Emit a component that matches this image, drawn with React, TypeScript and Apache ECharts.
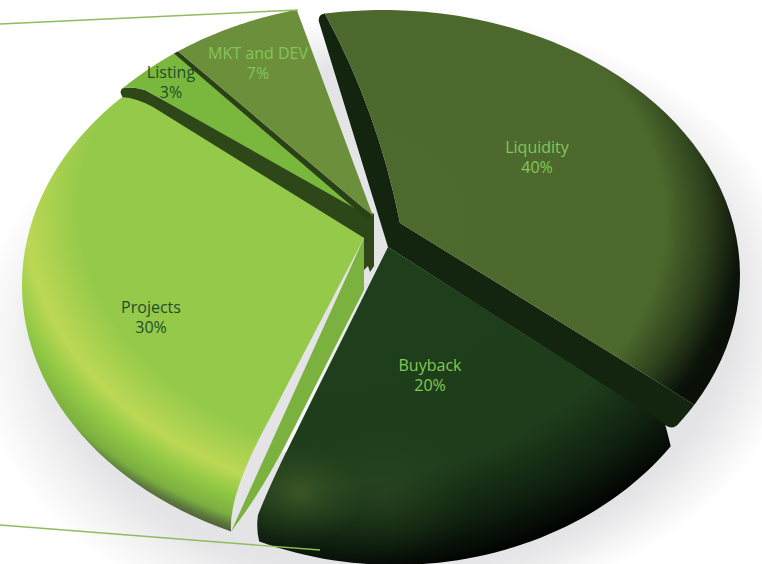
import React, { useEffect, useRef } from "react";
import * as echarts from "echarts";

// Token allocation shown by the exploded pie.
const categories = ["Liquidity", "Buyback", "Projects", "Listing", "MKT and DEV"];
const shares = [40, 20, 30, 3, 7];

type Pt = { x: number; y: number };
type Ell = { x: number; y: number; rx: number; ry: number };

// The disc every slice edge is measured on, seen in perspective.
const HUB: Ell = { x: 381, y: 285, rx: 359, ry: 275 };
const SQUASH = HUB.ry / HUB.rx;

const { RadialGradient } = echarts.graphic;

const rad = (d: number) => (d * Math.PI) / 180;

// Perspective foreshortening of an angle measured clockwise from 12 o'clock.
const foreshorten = (d: number) =>
  d - 15.1 + 3.6 * Math.cos(rad(d)) - 8.5 * Math.sin(rad(d));

const total = shares.reduce((a, b) => a + b, 0);
const sweep = shares.map((_, i) => {
  const before = shares.slice(0, i).reduce((a, b) => a + b, 0);
  return [
    foreshorten((before / total) * 360),
    foreshorten(((before + shares[i]) / total) * 360),
  ];
});

// Point where the ray from the hub at this angle meets an exploded slice's rim.
function rimPoint(e: Ell, deg: number): Pt {
  const dx = HUB.rx * Math.sin(rad(deg));
  const dy = -HUB.ry * Math.cos(rad(deg));
  const ox = (HUB.x - e.x) / e.rx;
  const oy = (HUB.y - e.y) / e.ry;
  const ux = dx / e.rx;
  const uy = dy / e.ry;
  const a = ux * ux + uy * uy;
  const b = 2 * (ox * ux + oy * uy);
  const c = ox * ox + oy * oy - 1;
  const t = (-b + Math.sqrt(Math.max(0, b * b - 4 * a * c))) / (2 * a);
  return { x: HUB.x + t * dx, y: HUB.y + t * dy };
}

function rimArc(e: Ell, from: Pt, to: Pt, steps = 48): Pt[] {
  const a0 = Math.atan2((from.x - e.x) / e.rx, -(from.y - e.y) / e.ry);
  let a1 = Math.atan2((to.x - e.x) / e.rx, -(to.y - e.y) / e.ry);
  if (a1 < a0) a1 += Math.PI * 2;
  const out: Pt[] = [];
  for (let i = 0; i <= steps; i++) {
    const a = a0 + ((a1 - a0) * i) / steps;
    out.push({ x: e.x + e.rx * Math.sin(a), y: e.y - e.ry * Math.cos(a) });
  }
  return out;
}

// Path helpers working in the unsquashed disc space of the slice group.
const P = (x: number, y: number): Pt => ({ x, y });
const fmt = (p: Pt) =>
  `${(p.x - HUB.x).toFixed(2)} ${((p.y - HUB.y) / SQUASH).toFixed(2)}`;
const M = (p: Pt) => `M${fmt(p)}`;
const L = (...ps: Pt[]) => ps.map((p) => `L${fmt(p)}`).join("");
const Q = (c: Pt, p: Pt) => `Q${fmt(c)} ${fmt(p)}`;

const disc = (cx: number, cy: number) => ({
  x: cx - HUB.x,
  y: (cy - HUB.y) / SQUASH,
});
function radial(cx: number, cy: number, r: number, stops: [number, string][]) {
  const c = disc(cx, cy);
  return new RadialGradient(
    c.x,
    c.y,
    r,
    stops.map(([offset, color]) => ({ offset, color })),
    true
  );
}
const shape = (pathData: string, fill: any) => ({
  type: "path",
  shape: { pathData },
  style: { fill },
});

function liquidity(a: number[]) {
  const e: Ell = { x: 383, y: 275, rx: 357, ry: 265 };
  const apex = P(400, 223);
  const s = rimPoint(e, a[0] + 2.5);
  const end = rimPoint(e, a[1]);
  const f = rimPoint(e, a[1] - 4.5);
  const bend = P(378, 112);
  const wall =
    M(s) +
    Q(P(s.x - 7, s.y + 1), P(s.x - 6, s.y + 8)) +
    L(P(388, 247), P(665, 425)) +
    Q(P(673, 431), end) +
    L(...rimArc(e, f, end).reverse()) +
    L(apex) +
    Q(bend, s) +
    "Z";
  const face = M(apex) + Q(bend, s) + L(...rimArc(e, s, f)) + "Z";
  return [
    shape(wall, "#13240f"),
    shape(
      face,
      radial(330, 220, 420, [
        [0, "#4e6a2e"],
        [0.8, "#4c682c"],
        [0.9, "#2d401c"],
        [0.98, "#0c140a"],
        [1, "#0a1008"],
      ])
    ),
  ];
}

function buyback(a: number[]) {
  const e: Ell = { x: 395, y: 290, rx: 335, ry: 275 };
  const apex = P(388, 247);
  const s = rimPoint(e, a[0] + 5);
  const end = rimPoint(e, a[1] - 3);
  const outline =
    M(apex) +
    L(P(665, 424)) +
    Q(P(667, 431), s) +
    L(...rimArc(e, s, end)) +
    Q(P(256, 530), P(258, 515)) +
    Q(P(272, 480), P(297, 430)) +
    L(apex) +
    "Z";
  return [
    shape(
      outline,
      radial(300, 190, 510, [
        [0, "#1f3f1c"],
        [0.76, "#1e3d1b"],
        [0.9, "#0f200f"],
        [1, "#020402"],
      ])
    ),
    shape(
      outline,
      radial(300, 493, 66, [
        [0, "rgba(74,96,44,0.7)"],
        [1, "rgba(50,80,35,0)"],
      ])
    ),
    shape(
      outline,
      radial(385, 497, 85, [
        [0, "rgba(60,85,40,0.35)"],
        [1, "rgba(50,80,35,0)"],
      ])
    ),
  ];
}

function projects(a: number[]) {
  const e: Ell = { x: 380, y: 285, rx: 358, ry: 271 };
  const apex = P(364, 238);
  const s = rimPoint(e, a[0] + 2);
  const end = rimPoint(e, a[1] - 3.3);
  const sliver =
    M(P(365, 288)) + L(P(293, 430), P(282, 452), P(286, 452), P(297, 430)) + "Z";
  const wall =
    M(apex) +
    L(P(364, 290), P(293, 430)) +
    Q(P(262, 492), s) +
    L(apex) +
    "Z";
  const face =
    M(apex) +
    L(P(270, 418)) +
    Q(P(228, 495), s) +
    L(...rimArc(e, s, end)) +
    Q(P(135, 97), P(150, 103)) +
    L(apex) +
    "Z";
  return [
    shape(sliver, "#f6f6f7"),
    shape(wall, "#7bb23f"),
    shape(
      face,
      radial(411, 208, 460, [
        [0, "#95c94a"],
        [0.72, "#95c94a"],
        [0.84, "#bcd855"],
        [0.9, "#90c844"],
        [0.955, "#7aaf40"],
        [0.98, "#5d7a3c"],
        [1, "#4f5d3a"],
      ])
    ),
  ];
}

const UPPER: Ell = { x: 380, y: 285, rx: 358, ry: 283 };

function listing(a: number[]) {
  const apex = P(372, 218);
  const s = rimPoint(UPPER, a[0] - 2);
  const end = rimPoint(UPPER, a[1] - 1);
  const wall =
    M(s) +
    Q(P(s.x - 4, s.y + 3), P(s.x, s.y + 9)) +
    Q(P(136, 98), P(153, 107)) +
    L(
      P(364, 238),
      P(364, 270),
      P(368, 266),
      P(370, 272),
      P(374, 266),
      P(374, 214),
      P(145, 90)
    ) +
    Q(P(133, 86), s) +
    "Z";
  const face =
    M(apex) +
    L(P(145, 90)) +
    Q(P(133, 86), s) +
    L(...rimArc(UPPER, s, end)) +
    "Z";
  return [shape(wall, "#2e4719"), shape(face, "#7ab83d")];
}

function mkt(a: number[]) {
  const apex = P(373, 216);
  const s = rimPoint(UPPER, a[0] - 1);
  const p = rimPoint(UPPER, a[0] - 0.2);
  const end = rimPoint(UPPER, a[1] - 1.7);
  const wall = M(s) + L(p, apex, P(368, 220)) + "Z";
  const face = M(apex) + L(p) + L(...rimArc(UPPER, p, end)) + "Z";
  return [shape(wall, "#2a4017"), shape(face, "#6b8f3a")];
}

const builders = [liquidity, buyback, projects, listing, mkt];
const labelAt: [number, number][] = [
  [537, 157],
  [430, 375],
  [151, 317],
  [171, 82],
  [258, 63],
];
const labelFill = ["#82c85a", "#85c84f", "#1f4d2a", "#1f4d2a", "#84c65c"];

function renderSlice(params: any) {
  const i = params.dataIndex;
  return {
    type: "group",
    children: [
      {
        type: "group",
        x: HUB.x,
        y: HUB.y,
        scaleY: SQUASH,
        children: builders[i](sweep[i]),
      },
      {
        type: "text",
        style: {
          text: `${categories[i]}\n${shares[i]}%`,
          x: labelAt[i][0],
          y: labelAt[i][1],
          fill: labelFill[i],
          font: '500 16px "Open Sans"',
          lineHeight: 20,
          textAlign: "center",
          textVerticalAlign: "middle",
        },
      },
    ],
  };
}

const hazeFill = (from: number) =>
  new RadialGradient(0.5, 0.5, 0.5, [
    { offset: 0, color: "#e4e4e6" },
    { offset: from, color: "#e4e4e6" },
    { offset: 1, color: "rgba(228,228,230,0)" },
  ]);

export default function App() {
  const ref = useRef<HTMLDivElement>(null);
  useEffect(() => {
    document.body.style.margin = "0";
    const chart = echarts.init(ref.current!, null, { renderer: "svg" });
    chart.setOption({
      animation: false,
      backgroundColor: "#ffffff",
      graphic: {
        elements: [
          {
            type: "ellipse",
            z: 0,
            silent: true,
            shape: { cx: 410, cy: 310, rx: 395, ry: 300 },
            style: { fill: hazeFill(0.82) },
          },
          {
            type: "ellipse",
            z: 0,
            silent: true,
            shape: { cx: 345, cy: 345, rx: 370, ry: 285 },
            style: { fill: hazeFill(0.76) },
          },
          {
            type: "line",
            z: 10,
            silent: true,
            shape: { x1: 0, y1: 24, x2: 298, y2: 10 },
            style: { stroke: "#8dbd5c", lineWidth: 1.4 },
          },
          {
            type: "line",
            z: 10,
            silent: true,
            shape: { x1: 0, y1: 525, x2: 320, y2: 550 },
            style: { stroke: "#8dbd5c", lineWidth: 1.4 },
          },
        ],
      },
      series: [
        {
          type: "custom",
          coordinateSystem: "none",
          silent: true,
          data: shares,
          renderItem: renderSlice,
        },
      ],
    });
    return () => chart.dispose();
  }, []);
  return <div ref={ref} style={{ width: 762, height: 564 }} />;
}
